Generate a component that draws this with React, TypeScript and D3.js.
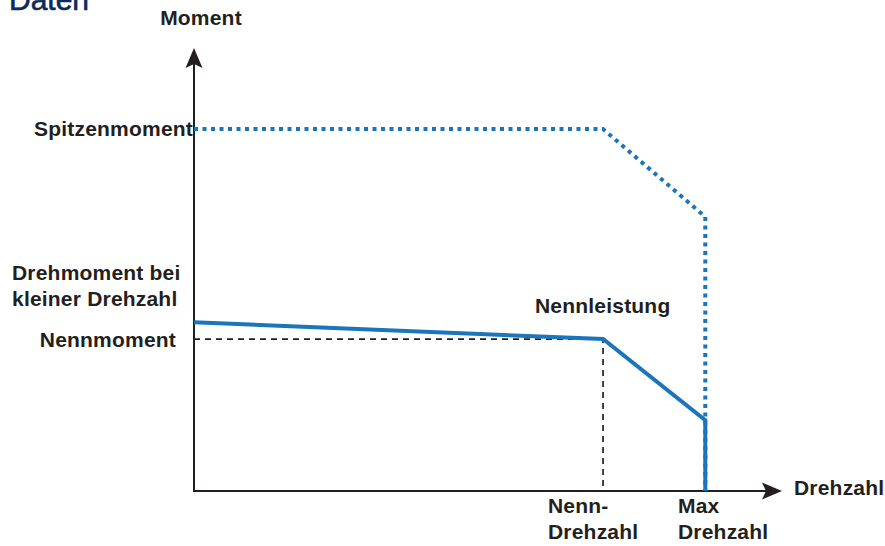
import React from "react";
import * as d3 from "d3";

const W = 885;
const H = 546;

// Data (abstract units: speed in rpm, torque in % of axis height)
const curveSpeeds = [0, 4000, 5000, 5000];
const peakTorque = [81.7, 81.7, 61.9, 0];
const ratedTorque = [38.1, 34.3, 16, 0];
const nominalSpeed = 4000;
const nominalTorque = 34.3;
const speedDomain = [0, 5750];
const torqueDomain = [0, 100];

const yLabels = [
  { lines: ["Spitzenmoment"], anchor: "end", x: 193, y: 136 },
  { lines: ["Drehmoment bei", "kleiner Drehzahl"], anchor: "start", x: 12, y: 280 },
  { lines: ["Nennmoment"], anchor: "end", x: 176, y: 347 },
];
const xLabels = [
  { lines: ["Nenn-", "Drehzahl"], x: 548, y: 513 },
  { lines: ["Max", "Drehzahl"], x: 678, y: 513 },
];

const BLUE = "#1b75bb";
const INK = "#231f20";
const FONT = "'Liberation Sans', Arial, Helvetica, sans-serif";

export default function App() {
  const x = d3.scaleLinear().domain(speedDomain).range([194, 782]);
  const y = d3.scaleLinear().domain(torqueDomain).range([491, 48]);

  const line = d3
    .line<[number, number]>()
    .x((d) => x(d[0]))
    .y((d) => y(d[1]));

  const peakPts = curveSpeeds.map((s, i) => [s, peakTorque[i]] as [number, number]);
  const ratedPts = curveSpeeds.map((s, i) => [s, ratedTorque[i]] as [number, number]);
  const guidePts: [number, number][] = [
    [0, nominalTorque],
    [nominalSpeed, nominalTorque],
    [nominalSpeed, 0],
  ];

  const x0 = x(0);
  const y0 = y(0);
  const yTop = y(100);
  const xEnd = x(speedDomain[1]);

  const textStyle = {
    fontFamily: FONT,
    fontWeight: 700,
    fontSize: 21,
    fill: INK,
    letterSpacing: 0.2,
  } as const;

  return (
    <svg
      width={W}
      height={H}
      style={{ position: "absolute", left: 0, top: 0, display: "block", background: "#fff" }}
    >
      <text x={9} y={10} fontFamily={FONT} fontSize={30} fill="#0b2a5e" stroke="#0b2a5e" strokeWidth={0.6}>
        Daten
      </text>

      {/* dashed guides */}
      <path d={line(guidePts) || ""} fill="none" stroke={INK} strokeWidth={1.7} strokeDasharray="6 5" />

      {/* axes */}
      <line x1={x0} x2={x0} y1={y0 + 1} y2={yTop + 14} stroke={INK} strokeWidth={2} />
      <line x1={x0 - 1} x2={xEnd - 14} y1={y0} y2={y0} stroke={INK} strokeWidth={2} />
      <path
        d={`M${x0},${yTop} L${x0 - 8.5},${yTop + 20} L${x0},${yTop + 16} L${x0 + 8.5},${yTop + 20} Z`}
        fill={INK}
      />
      <path
        d={`M${xEnd},${y0} L${xEnd - 20},${y0 - 8.5} L${xEnd - 16},${y0} L${xEnd - 20},${y0 + 8.5} Z`}
        fill={INK}
      />

      {/* curves */}
      <path d={line(peakPts) || ""} fill="none" stroke={BLUE} strokeWidth={4} strokeDasharray="4 4.5" />
      <path d={line(ratedPts) || ""} fill="none" stroke={BLUE} strokeWidth={4} strokeLinejoin="miter" />

      {/* axis titles */}
      <text x={201} y={25} textAnchor="middle" {...textStyle}>
        Moment
      </text>
      <text x={794} y={495} {...textStyle}>
        Drehzahl
      </text>
      <text x={535} y={313} {...textStyle}>
        Nennleistung
      </text>

      {yLabels.map((l, i) => (
        <text key={i} x={l.x} y={l.y} textAnchor={l.anchor as any} {...textStyle}>
          {l.lines.map((t, j) => (
            <tspan key={j} x={l.x} dy={j === 0 ? 0 : 26}>
              {t}
            </tspan>
          ))}
        </text>
      ))}
      {xLabels.map((l, i) => (
        <text key={i} x={l.x} y={l.y} {...textStyle}>
          {l.lines.map((t, j) => (
            <tspan key={j} x={l.x} dy={j === 0 ? 0 : 26}>
              {t}
            </tspan>
          ))}
        </text>
      ))}
    </svg>
  );
}
